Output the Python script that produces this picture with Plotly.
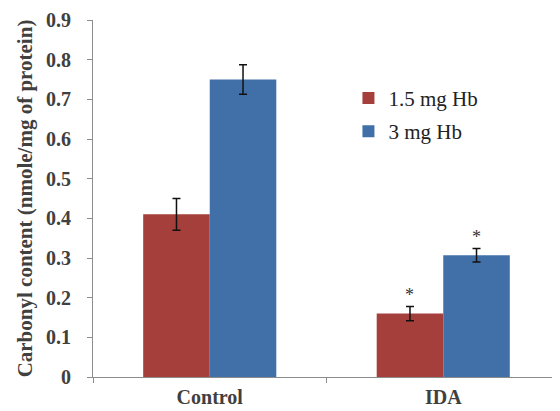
import plotly.graph_objects as go

categories = ["Control", "IDA"]
series_names = ["1.5 mg Hb", "3 mg Hb"]
values_15 = [0.41, 0.16]
errors_15 = [0.04, 0.018]
values_3 = [0.75, 0.307]
errors_3 = [0.037, 0.017]
sig_15 = ["", "*"]
sig_3 = ["", "*"]
y_ticks = [0, 0.1, 0.2, 0.3, 0.4, 0.5, 0.6, 0.7, 0.8, 0.9]
y_tick_labels = ["0", "0.1", "0.2", "0.3", "0.4", "0.5", "0.6", "0.7", "0.8", "0.9"]

colors = ["#A43F3C", "#4170A9"]
serif = "Liberation Serif"
bargap = 0.43

fig = go.Figure()
for name, vals, errs, col in [(series_names[0], values_15, errors_15, colors[0]),
                              (series_names[1], values_3, errors_3, colors[1])]:
    fig.add_trace(go.Bar(
        x=categories, y=vals, name=name, marker=dict(color=col, line=dict(width=0)),
        legendgroup=name,
        error_y=dict(type="data", array=errs, visible=True, color="#111111",
                     thickness=1.5, width=4),
    ))

# significance asterisks above error bars
w = (1 - bargap) / 2
for k, (vals, errs, sig) in enumerate([(values_15, errors_15, sig_15), (values_3, errors_3, sig_3)]):
    off = -w / 2 if k == 0 else w / 2
    for i, s in enumerate(sig):
        if s:
            fig.add_annotation(x=i + off, y=vals[i] + errs[i], xref="x", yref="y",
                               text=s, showarrow=False, yshift=11,
                               font=dict(family=serif, size=18, color="#333333"))

fig.update_layout(
    width=560, height=411,
    margin=dict(l=85, r=8, t=12, b=42),
    paper_bgcolor="white", plot_bgcolor="white",
    barmode="group", bargap=bargap, bargroupgap=0,
    showlegend=True,
    legend=dict(x=0.547, y=0.838, xanchor="left", yanchor="top",
                font=dict(family=serif, size=21, color="#222222"),
                bgcolor="rgba(0,0,0,0)", tracegroupgap=3,
                itemwidth=30),
    font=dict(family=serif),
)
fig.update_xaxes(
    range=[-0.5, 1.5], showline=True, linecolor="#8c8c8c", linewidth=1,
    ticks="outside", ticklen=5, tickcolor="#8c8c8c", tickson="boundaries",
    tickfont=dict(family=serif, size=20, color="#404040", weight="bold"),
    showgrid=False, zeroline=False, ticklabelstandoff=2,
)
fig.update_yaxes(
    range=[0, 0.9], tickvals=y_ticks, ticktext=y_tick_labels,
    showline=True, linecolor="#8c8c8c", linewidth=1,
    ticks="outside", ticklen=5, tickcolor="#8c8c8c",
    tickfont=dict(family=serif, size=20, color="#404040", weight="bold"),
    ticklabeloverflow="allow",
    showgrid=False, zeroline=False, ticklabelstandoff=12,
    title=dict(text="Carbonyl content (nmole/mg of protein)", standoff=7,
               font=dict(family=serif, size=21, color="#404040", weight="bold")),
    automargin=False,
)

fig.write_html("out.html")
